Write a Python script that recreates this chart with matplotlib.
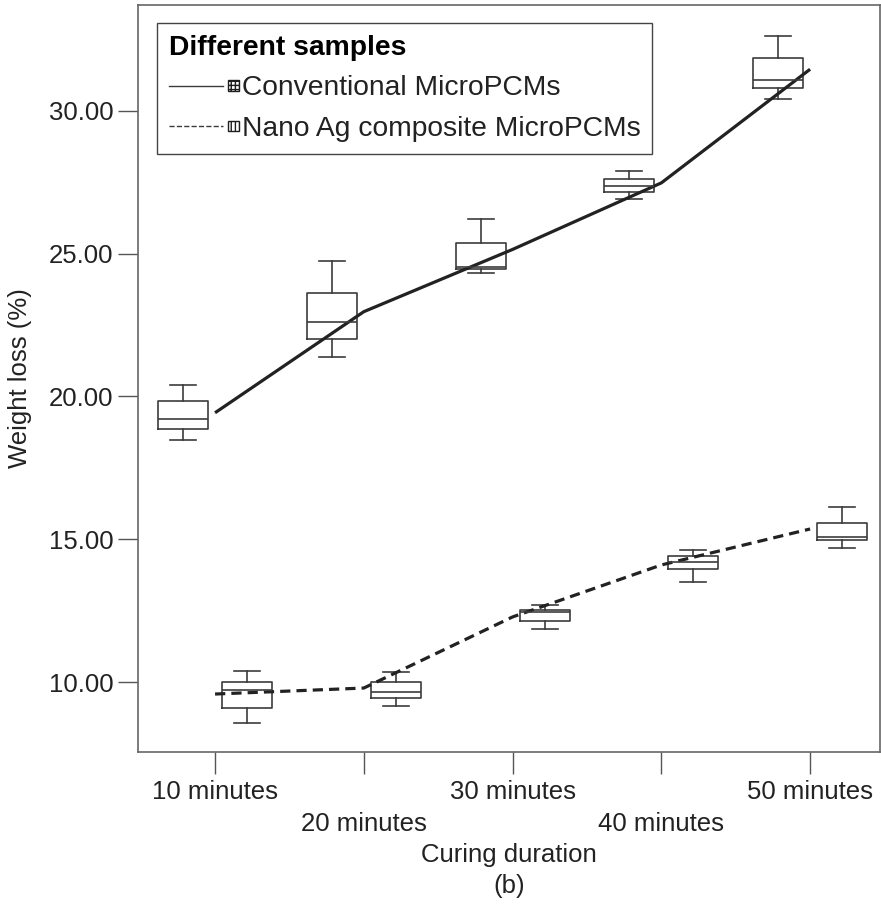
import matplotlib

matplotlib.use("Agg")
import matplotlib.pyplot as plt
from matplotlib.lines import Line2D
from matplotlib.patches import Rectangle

durations = ["10 minutes", "20 minutes", "30 minutes", "40 minutes", "50 minutes"]
series_names = ["Conventional MicroPCMs", "Nano Ag composite MicroPCMs"]

conv_lo = [18.48, 21.38, 24.31, 26.93, 30.42]
conv_q1 = [18.86, 22.00, 24.47, 27.17, 30.81]
conv_med = [19.22, 22.60, 24.52, 27.37, 31.09]
conv_q3 = [19.85, 23.64, 25.37, 27.63, 31.87]
conv_hi = [20.40, 24.75, 26.23, 27.91, 32.62]
conv_mean = [19.43, 22.97, 25.15, 27.48, 31.46]

nano_lo = [8.55, 9.17, 11.87, 13.50, 14.68]
nano_q1 = [9.09, 9.44, 12.15, 13.95, 14.97]
nano_med = [9.72, 9.64, 12.44, 14.20, 15.09]
nano_q3 = [9.99, 9.99, 12.53, 14.40, 15.58]
nano_hi = [10.39, 10.34, 12.69, 14.62, 16.13]
nano_mean = [9.58, 9.79, 12.28, 14.10, 15.36]

plt.rcParams["font.family"] = ["Liberation Sans", "DejaVu Sans"]
plt.rcParams["hatch.linewidth"] = 1.0

EDGE = "#3c3c3c"
FS = 18.5
LEG_FS = 20.3


def make_stats(lo, q1, med, q3, hi):
    return [
        {"whislo": a, "q1": b, "med": c, "q3": d, "whishi": e, "fliers": []}
        for a, b, c, d, e in zip(lo, q1, med, q3, hi)
    ]


class LineBoxHandler:
    def __init__(self, hatch):
        self.hatch = hatch

    def legend_artist(self, legend, orig_handle, fontsize, handlebox):
        x0, y0 = handlebox.xdescent, handlebox.ydescent
        w, h = handlebox.width, handlebox.height
        trans = handlebox.get_transform()
        line = Line2D([x0, x0 + 0.78 * w], [y0 + h / 2] * 2, color=EDGE, lw=1.0,
                      linestyle=orig_handle.get_linestyle(), transform=trans)
        s = 0.15 * w
        sq = Rectangle((x0 + 0.86 * w, y0 + h / 2 - s / 2), s, s, facecolor="white",
                       edgecolor="#1e1e1e", hatch=self.hatch, lw=1.0, transform=trans)
        handlebox.add_artist(line)
        handlebox.add_artist(sq)
        return line


positions = list(range(1, len(durations) + 1))
offset = 0.215
box_w = 0.336

fig = plt.figure(figsize=(8.81, 9.11), dpi=100)
ax = fig.add_axes([138 / 881, 1 - 752 / 911, 742 / 881, 747 / 911])

props = dict(
    showfliers=False,
    widths=box_w,
    capwidths=0.175,
    boxprops=dict(color=EDGE, lw=1.2),
    whiskerprops=dict(color=EDGE, lw=1.2),
    capprops=dict(color=EDGE, lw=1.2),
    medianprops=dict(color=EDGE, lw=1.2),
    manage_ticks=False,
)
ax.bxp(make_stats(conv_lo, conv_q1, conv_med, conv_q3, conv_hi),
       positions=[p - offset for p in positions], **props)
ax.bxp(make_stats(nano_lo, nano_q1, nano_med, nano_q3, nano_hi),
       positions=[p + offset for p in positions], **props)

ax.plot(positions, conv_mean, color="#222222", lw=2.3, solid_capstyle="butt")
ax.plot(positions, nano_mean, color="#222222", lw=2.3, linestyle=(0, (3.2, 1.9)))

ax.set_xlim(0.482, 5.47)
ax.set_ylim(7.55, 33.71)
ax.set_yticks([10, 15, 20, 25, 30])
ax.set_yticklabels([f"{v:.2f}" for v in [10, 15, 20, 25, 30]], fontsize=FS, color="#222222")
ax.set_xticks(positions)
ax.set_xticklabels(durations, fontsize=FS, color="#222222")
ax.tick_params(axis="y", length=14.4, width=1.0, color="#555555", pad=3.5)
ax.tick_params(axis="x", length=16, width=1.0, color="#555555", pad=4)
for i, tick in enumerate(ax.xaxis.get_major_ticks()):
    if i % 2 == 1:
        tick.set_pad(27)

for spine in ax.spines.values():
    spine.set_color("#666666")
    spine.set_linewidth(1.2)

ax.set_xlabel("Curing duration", fontsize=FS, color="#222222", labelpad=5)
ax.set_ylabel("Weight loss (%)", fontsize=FS, color="#222222", labelpad=12)

h_conv = Line2D([], [], linestyle="-")
h_nano = Line2D([], [], linestyle=(0, (4, 3)))
leg = ax.legend(
    [h_conv, h_nano], series_names,
    handler_map={h_conv: LineBoxHandler("++++"), h_nano: LineBoxHandler("||||")},
    title="Different samples", title_fontproperties={"weight": "bold", "size": LEG_FS},
    alignment="left", loc="upper left", bbox_to_anchor=(0.0256, 0.976),
    borderaxespad=0, fontsize=LEG_FS, handlelength=2.45, handletextpad=0.14,
    borderpad=0.42, labelspacing=0.52, fancybox=False, framealpha=1,
    edgecolor="#444444",
)
leg.get_frame().set_linewidth(1.0)
for t in leg.get_texts():
    t.set_color("#222222")

fig.text(509 / 881, 1 - 886 / 911, "(b)", ha="center", va="center", fontsize=FS, color="#222222")

fig.savefig("out.png", dpi=100)
